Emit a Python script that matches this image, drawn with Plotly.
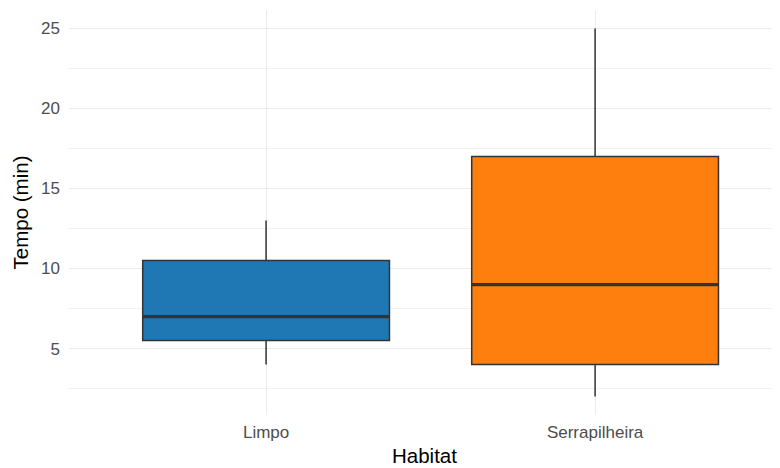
import plotly.graph_objects as go

categories = ["Limpo", "Serrapilheira"]
lower_whisker = [4, 2]
q1_values = [5.5, 4]
median_values = [7, 9]
q3_values = [10.5, 17]
upper_whisker = [13, 25]
colors = ["#1F77B4", "#FF7F0E"]
y_ticks = [5, 10, 15, 20, 25]

BOX_W = 0.75
xpos = list(range(1, len(categories) + 1))

fig = go.Figure()
for i, cat in enumerate(categories):
    fig.add_trace(go.Box(
        x=[xpos[i]], q1=[q1_values[i]], median=[median_values[i]], q3=[q3_values[i]],
        lowerfence=[lower_whisker[i]], upperfence=[upper_whisker[i]],
        width=BOX_W, whiskerwidth=0, fillcolor=colors[i],
        line=dict(color="#333333", width=1.5), name=cat, showlegend=False,
        boxpoints=False, hoverinfo="skip"))
    fig.add_trace(go.Scatter(
        x=[xpos[i] - BOX_W / 2, xpos[i] + BOX_W / 2],
        y=[median_values[i], median_values[i]],
        mode="lines", line=dict(color="#333333", width=3.2),
        showlegend=False, hoverinfo="skip"))

font = "Arial, Liberation Sans, sans-serif"
fig.update_layout(
    width=772, height=460, paper_bgcolor="white", plot_bgcolor="white",
    margin=dict(l=61, r=0, t=2, b=53), boxmode="overlay",
    font=dict(family=font),
    xaxis=dict(range=[0.401, 2.562], tickvals=xpos, ticktext=categories,
               automargin=False,
               showgrid=True, gridcolor="#EBEBEB", gridwidth=1, zeroline=False,
               showline=False, ticks="", ticklabelstandoff=5,
               tickfont=dict(size=17, color="#4D4D4D"),
               title=dict(text="Habitat", font=dict(size=20.5, color="black"), standoff=7)),
    yaxis=dict(range=[0.85, 26.15], tickvals=y_ticks, automargin=False,
               showgrid=True, gridcolor="#EBEBEB", gridwidth=1, zeroline=False,
               showline=False, ticks="", ticklabelstandoff=8,
               tickfont=dict(size=17, color="#4D4D4D"),
               minor=dict(tick0=0, dtick=2.5, showgrid=True, gridcolor="#F0F0F0", gridwidth=1),
               title=dict(text="Tempo (min)", font=dict(size=20.5, color="black"), standoff=6)),
)
fig.write_html("out.html")
